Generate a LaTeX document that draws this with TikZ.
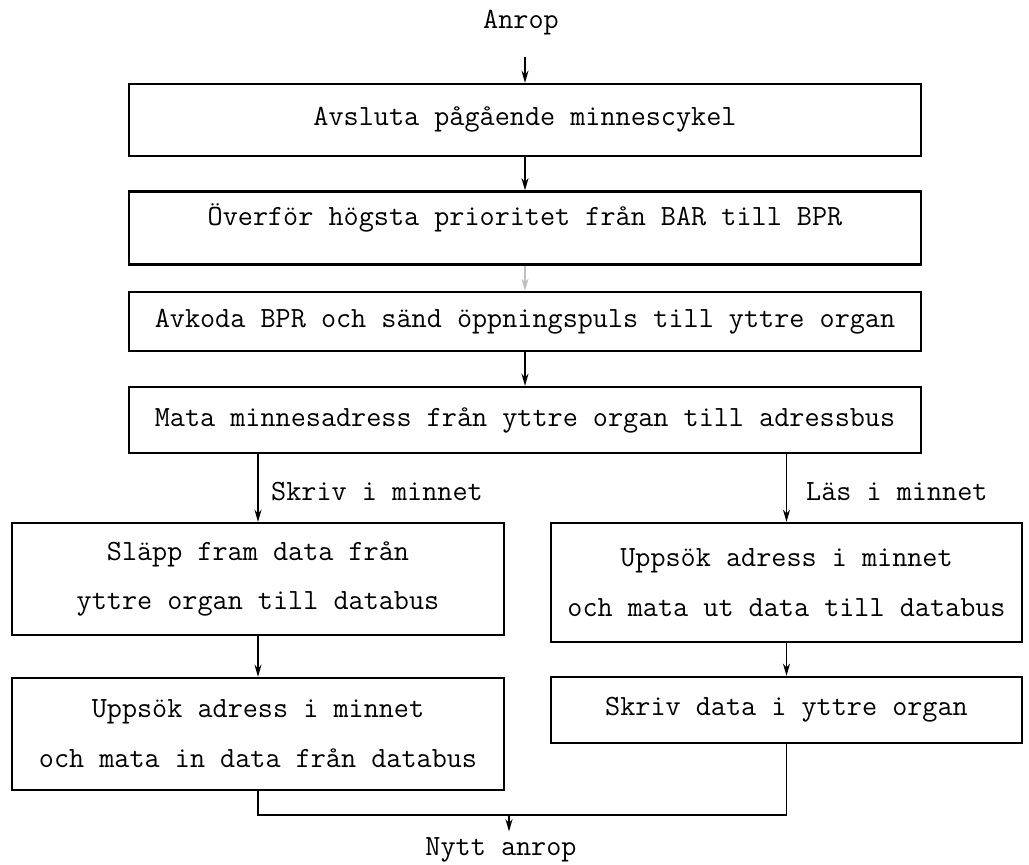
\documentclass[tikz,border=0pt]{standalone}
\usepackage{tikz}
\usetikzlibrary{arrows.meta, positioning, calc}

\begin{document}
\begin{tikzpicture}[
    x=0.02cm, y=-0.02cm,
    font={\fontsize{16.7}{28.4}\selectfont\ttfamily},
    box/.style={draw, line width=1.3pt, inner sep=2pt, align=center},
    wide/.style={box, minimum width=15.84cm},
    half/.style={box, minimum width=9.84cm},
    halfr/.style={box, minimum width=9.42cm},
    arr/.style={-{Stealth[length=7pt, width=4pt]}, line width=0.9pt},
    line/.style={line width=1.1pt},
]
\useasboundingbox (0,0) rectangle (1029,865);

\node (anrop) at (521,23) {Anrop};

\node[wide, minimum height=1.44cm] (avsluta) at (525,120) {Avsluta pågående minnescykel};
\node[wide, minimum height=1.46cm, text depth=0.55cm] (overfor) at (525,228) {Överför högsta prioritet från BAR till BPR};
\node[wide, minimum height=1.18cm] (avkoda) at (525,321.5) {Avkoda BPR och sänd öppningspuls till yttre organ};
\node[wide, minimum height=1.32cm] (mata) at (525,420) {Mata minnesadress från yttre organ till adressbus};

\node[half, minimum height=2.24cm] (slapp) at (258,579) {Släpp fram data från\\yttre organ till databus};
\node[half, minimum height=2.24cm] (uppsokin) at (258,734) {Uppsök adress i minnet\\och mata in data från databus};
\node[halfr, minimum height=2.38cm] (uppsokut) at (786.5,582.5) {Uppsök adress i minnet\\och mata ut data till databus};
\node[halfr, minimum height=1.32cm] (skrivdata) at (786.5,710) {Skriv data i yttre organ};

\node[anchor=west] (skrivlbl) at (265,492) {Skriv i minnet};
\node[anchor=west] (laslbl) at (800,492) {Läs i minnet};

\node (nytt) at (501,850) {Nytt anrop};
\coordinate (merge) at (509,815);

% main chain
\draw[arr, shorten <=9pt] (anrop.south -| avsluta.north) -- (avsluta.north);
\draw[arr] (avsluta) -- (overfor);
\draw[arr, black!25] (overfor) -- (avkoda);
\draw[arr] (avkoda) -- (mata);

% write / read branches
\draw[arr] (slapp.north |- mata.south) -- (slapp.north);
\draw[arr] (uppsokut.north |- mata.south) -- (uppsokut.north);
\draw[arr] (slapp) -- (uppsokin);
\draw[arr] (uppsokut) -- (skrivdata);

% join
\draw[line] (uppsokin.south) |- (merge) -| (skrivdata.south);
\draw[arr, line width=0.7pt] (merge) -- (merge |- nytt.north);

\end{tikzpicture}
\end{document}
